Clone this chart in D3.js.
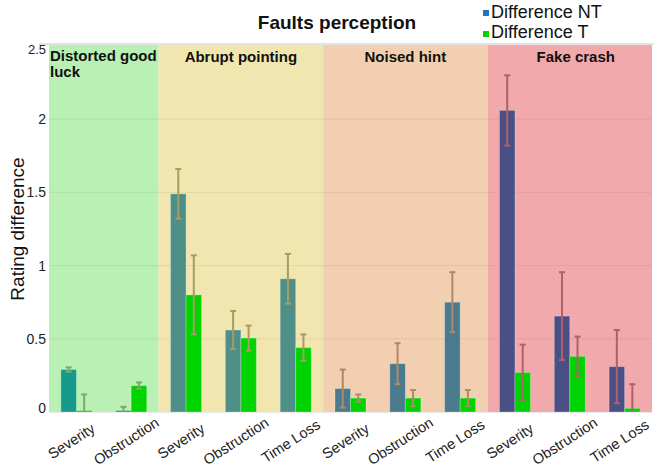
<!DOCTYPE html>
<html>
<head>
<meta charset="utf-8">
<script src="https://cdn.jsdelivr.net/npm/d3@7"></script>
<style>
  body { margin: 0; background: #fff; }
  svg { font-family: "Liberation Sans", Arial, sans-serif; display: block; }
</style>
</head>
<body>
<div id="graph"></div>
<script>
// data
const groups = ['Distorted good luck', 'Abrupt pointing', 'Noised hint', 'Fake crash'];
const groupOf = [0, 0, 1, 1, 1, 2, 2, 2, 3, 3, 3];
const categories = ['Severity', 'Obstruction', 'Severity', 'Obstruction', 'Time Loss',
  'Severity', 'Obstruction', 'Time Loss', 'Severity', 'Obstruction', 'Time Loss'];
const diffNT = [0.29, 0.01, 1.49, 0.56, 0.91, 0.16, 0.33, 0.75, 2.06, 0.655, 0.31];
const errNT = [0.015, 0.025, 0.17, 0.13, 0.17, 0.13, 0.14, 0.205, 0.24, 0.30, 0.25];
const diffT = [0.01, 0.18, 0.80, 0.505, 0.44, 0.095, 0.095, 0.095, 0.27, 0.38, 0.025];
const errT = [0.11, 0.022, 0.27, 0.085, 0.09, 0.025, 0.055, 0.055, 0.19, 0.135, 0.165];
const yTicks = [0, 0.5, 1, 1.5, 2, 2.5];

// region styles
const bgColor = ['#b9f0b4', '#f1e6b0', '#f1cfb0', '#f1a9ac'];
const ntColor = ['#159a8b', '#4e8f88', '#4a7a8e', '#4a5086'];
const tColor = '#00d400';
const errColor = ['#7fa868', '#a89c62', '#b08a66', '#b0606a'];

const w = 654, h = 470;
const margin = {top: 46, right: 2, bottom: 58, left: 49};

const svg = d3.select('#graph').append('svg')
  .attr('width', w).attr('height', h);

const idx = d3.range(categories.length);
const x = d3.scaleBand().domain(idx).range([margin.left, w - margin.right]).paddingInner(0).paddingOuter(0);
const y = d3.scaleLinear().domain([0, 2.5]).range([h - margin.bottom, margin.top]);
const bw = 15.5;

// background regions
groups.forEach((g, gi) => {
  const members = idx.filter(i => groupOf[i] === gi);
  const x0 = x(members[0]);
  const x1 = x(members[members.length - 1]) + x.bandwidth();
  svg.append('rect')
    .attr('x', x0).attr('y', y(2.5) - 2)
    .attr('width', x1 - x0).attr('height', y(0) - y(2.5) + 2)
    .attr('fill', bgColor[gi]);
  const lab = svg.append('text')
    .attr('font-weight', 'bold').attr('font-size', 15)
    .attr('fill', '#111');
  if (gi === 0) {
    lab.attr('x', x0 + 1).attr('y', y(2.5) + 15);
    lab.append('tspan').attr('x', x0 + 1).text('Distorted good');
    lab.append('tspan').attr('x', x0 + 1).attr('dy', 16).text('luck');
  } else {
    lab.attr('x', (x0 + x1) / 2 + (gi === 3 ? 6 : 0)).attr('y', y(2.5) + 16)
      .attr('text-anchor', 'middle').text(g);
  }
});

// top line
svg.append('line')
  .attr('x1', margin.left - 10).attr('x2', w)
  .attr('y1', y(2.5) - 2).attr('y2', y(2.5) - 2)
  .attr('stroke', '#e2e2e2').attr('stroke-width', 2);

// gridlines
svg.append('g').selectAll('line').data(yTicks.slice(1, -1)).enter().append('line')
  .attr('x1', margin.left).attr('x2', w - margin.right)
  .attr('y1', d => y(d)).attr('y2', d => y(d))
  .attr('stroke', 'rgba(150,120,90,0.15)').attr('stroke-width', 1);

// y axis labels
const yAxis = d3.axisLeft(y).tickValues(yTicks).tickSize(0).tickPadding(3).tickFormat(d3.format('~g'));
const ya = svg.append('g').attr('transform', `translate(${margin.left},0)`).call(yAxis);
ya.select('.domain').remove();
ya.selectAll('text').attr('font-size', 14).attr('fill', '#222')
  .attr('font-family', '"Liberation Sans", Arial, sans-serif');
ya.selectAll('.tick').filter(d => d === 2.5).select('text').attr('dy', '0.6em').attr('font-size', 13);
ya.selectAll('.tick').filter(d => d === 0).select('text').attr('dy', '0.05em');

// baseline
svg.append('line')
  .attr('x1', margin.left).attr('x2', w - margin.right)
  .attr('y1', y(0) + 0.5).attr('y2', y(0) + 0.5)
  .attr('stroke', '#e8e8e8').attr('stroke-width', 1);

// bars
const cx = i => x(i) + x.bandwidth() / 2;
svg.append('g').selectAll('rect').data(idx).enter().append('rect')
  .attr('x', i => cx(i) - bw)
  .attr('y', i => y(diffNT[i]))
  .attr('width', bw)
  .attr('height', i => y(0) - y(diffNT[i]))
  .attr('fill', i => ntColor[groupOf[i]])
  .attr('stroke', 'rgba(255,255,255,0.25)').attr('stroke-width', 1);

svg.append('g').selectAll('rect').data(idx).enter().append('rect')
  .attr('x', i => cx(i))
  .attr('y', i => y(diffT[i]))
  .attr('width', bw)
  .attr('height', i => y(0) - y(diffT[i]))
  .attr('fill', tColor)
  .attr('stroke', 'rgba(255,255,255,0.25)').attr('stroke-width', 1);

// error bars
function errBars(vals, errs, off) {
  const g = svg.append('g');
  idx.forEach(i => {
    const xc = cx(i) + off;
    const lo = Math.max(0, vals[i] - errs[i]);
    const hi = vals[i] + errs[i];
    const c = errColor[groupOf[i]];
    g.append('line').attr('x1', xc).attr('x2', xc)
      .attr('y1', y(lo)).attr('y2', y(hi))
      .attr('stroke', c).attr('stroke-width', 2);
    g.append('line').attr('x1', xc - 3).attr('x2', xc + 3)
      .attr('y1', y(hi)).attr('y2', y(hi))
      .attr('stroke', c).attr('stroke-width', 2);
    if (vals[i] - errs[i] > 0) {
      g.append('line').attr('x1', xc - 3).attr('x2', xc + 3)
        .attr('y1', y(lo)).attr('y2', y(lo))
        .attr('stroke', c).attr('stroke-width', 2);
    }
  });
}
errBars(diffNT, errNT, -bw / 2);
errBars(diffT, errT, bw / 2);

// x labels
svg.append('g').selectAll('text').data(idx).enter().append('text')
  .attr('transform', i => `translate(${cx(i) - 5},${y(0) + 29}) rotate(-33)`)
  .attr('text-anchor', 'middle')
  .attr('dy', '0.35em')
  .attr('font-size', 14.5).attr('fill', '#222')
  .text(i => categories[i]);

// axis title
svg.append('text')
  .attr('transform', `translate(24,${(y(0) + y(2.5)) / 2}) rotate(-90)`)
  .attr('text-anchor', 'middle')
  .attr('font-size', 19).attr('fill', '#111')
  .text('Rating difference');

// title
svg.append('text')
  .attr('x', 337).attr('y', 29)
  .attr('text-anchor', 'middle')
  .attr('font-weight', 'bold').attr('font-size', 19).attr('fill', '#111')
  .text('Faults perception');

// legend
const legend = [['Difference NT', '#1f77c4'], ['Difference T', tColor]];
legend.forEach((d, i) => {
  svg.append('rect').attr('x', 483).attr('y', 10 + i * 21).attr('width', 6).attr('height', 6).attr('fill', d[1]);
  svg.append('text').attr('x', 491).attr('y', 18 + i * 20)
    .attr('font-size', 18).attr('fill', '#111').text(d[0]);
});
</script>
</body>
</html>
